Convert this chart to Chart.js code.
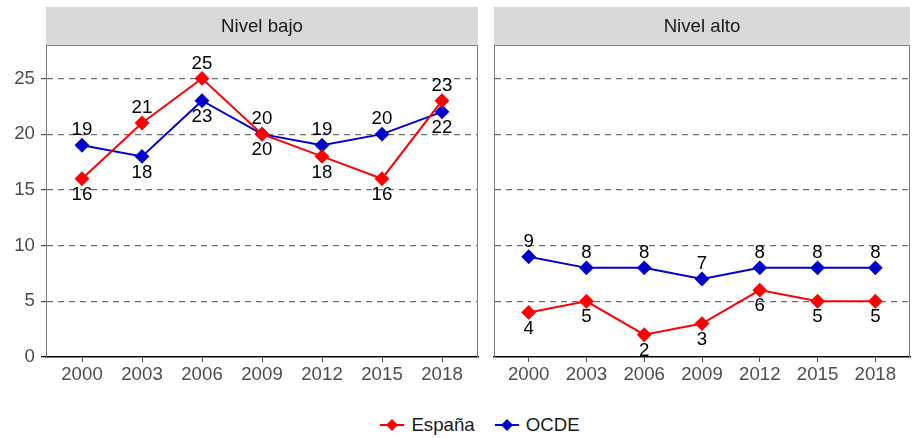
<!DOCTYPE html>
<html>
<head>
<meta charset="utf-8">
<script src="https://cdn.jsdelivr.net/npm/chart.js@4"></script>
<style>
  body { margin: 0; background: #fff; }
  #wrap { position: relative; width: 918px; height: 438px; font-family: "Liberation Sans", Arial, sans-serif; }
  .panel { position: absolute; top: 0; }
  #legend { position: absolute; top: 414px; left: 0; width: 960px; display: flex; justify-content: center; gap: 20px; font-size: 18.67px; color: #1a1a1a; }
  #legend span { display: flex; align-items: center; gap: 7px; }
</style>
</head>
<body>
<div id="wrap">
  <div class="panel" style="left:0;width:486px;height:397px"><canvas id="bajo"></canvas></div>
  <div class="panel" style="left:486px;width:432px;height:397px"><canvas id="alto"></canvas></div>
  <div id="legend"></div>
</div>
<script>
const years = ["2000", "2003", "2006", "2009", "2012", "2015", "2018"];
const seriesNames = ["España", "OCDE"];
const seriesColors = ["#ff0000", "#0000cd"];

// Nivel bajo
const bajoEspana = [16, 21, 25, 20, 18, 16, 23];
const bajoOcde = [19, 18, 23, 20, 19, 20, 22];
// Nivel alto
const altoEspana = [4, 5, 2, 3, 6, 5, 5];
const altoOcde = [9, 8, 8, 7, 8, 8, 8];

const yTicks = [0, 5, 10, 15, 20, 25];

const FONT = '18.67px "Liberation Sans", Arial, sans-serif';
Chart.defaults.font.family = '"Liberation Sans", Arial, sans-serif';
Chart.defaults.font.size = 18.67;

// gray strip on top of the panel plus the top/right panel border
const stripPlugin = {
  id: "strip",
  afterDraw(chart, args, opts) {
    const { ctx, chartArea: a } = chart;
    ctx.save();
    ctx.fillStyle = "#d9d9d9";
    ctx.fillRect(a.left, 7, a.right - a.left, a.top - 7);
    ctx.fillStyle = "#1a1a1a";
    ctx.font = FONT;
    ctx.textAlign = "center";
    ctx.textBaseline = "middle";
    ctx.fillText(opts.title, (a.left + a.right) / 2, (7 + a.top) / 2 + 1);
    ctx.strokeStyle = "#7f7f7f";
    ctx.lineWidth = 1;
    ctx.beginPath();
    ctx.moveTo(a.left, a.top + 0.5);
    ctx.lineTo(a.right - 0.5, a.top + 0.5);
    ctx.lineTo(a.right - 0.5, a.bottom);
    ctx.stroke();
    ctx.restore();
  }
};

// value labels: higher series above the point, lower one below
const valueLabels = {
  id: "valueLabels",
  afterDatasetsDraw(chart) {
    const { ctx } = chart;
    const d0 = chart.data.datasets[0].data, d1 = chart.data.datasets[1].data;
    ctx.save();
    ctx.fillStyle = "#000";
    ctx.font = FONT;
    ctx.textAlign = "center";
    ctx.textBaseline = "middle";
    chart.data.datasets.forEach((ds, di) => {
      chart.getDatasetMeta(di).data.forEach((pt, i) => {
        const espAbove = d0[i].y > d1[i].y;
        const above = di === 0 ? espAbove : !espAbove;
        ctx.fillText(String(ds.data[i].y), pt.x, pt.y + (above ? -15 : 16));
      });
    });
    ctx.restore();
  }
};

function makePanel(id, title, espana, ocde, showY) {
  const toPts = arr => arr.map((v, i) => ({ x: i, y: v }));
  return new Chart(document.getElementById(id), {
    type: "line",
    data: {
      datasets: [espana, ocde].map((arr, k) => ({
        label: seriesNames[k],
        data: toPts(arr),
        borderColor: seriesColors[k],
        backgroundColor: seriesColors[k],
        borderWidth: 2,
        pointStyle: "rectRot",
        pointRadius: 6,
        pointHoverRadius: 6,
        tension: 0
      }))
    },
    options: {
      responsive: true,
      maintainAspectRatio: false,
      animation: false,
      events: [],
      layout: { padding: { top: 45, right: showY ? 6 : 1, left: showY ? 0 : 6, bottom: 0 } },
      plugins: {
        legend: { display: false },
        tooltip: { enabled: false },
        strip: { title: title }
      },
      scales: {
        x: {
          type: "linear",
          min: -0.6,
          max: 6.6,
          afterBuildTicks: s => { s.ticks = years.map((_, i) => ({ value: i })); },
          afterFit: s => { s.height = 40; },
          ticks: { callback: v => years[v], color: "#4d4d4d", padding: 2, maxRotation: 0 },
          grid: { drawOnChartArea: false, drawTicks: true, tickLength: 5, tickColor: "#4d4d4d", tickBorderDash: [] },
          border: { color: "#000", width: 1.5 }
        },
        y: {
          min: 0,
          max: 28,
          afterBuildTicks: s => { s.ticks = yTicks.map(v => ({ value: v })); },
          afterFit: s => { s.width = showY ? 46 : 0; },
          ticks: { display: showY, color: "#4d4d4d", padding: 6 },
          grid: {
            color: c => (c.tick && c.tick.value === 0 ? "rgba(0,0,0,0)" : "#6e6e6e"),
            lineWidth: 1.2,
            drawTicks: showY,
            tickLength: 5,
            tickColor: c => (c.tick && c.tick.value === 0 ? "#000" : "#4d4d4d"),
            tickBorderDash: []
          },
          border: { color: "#7f7f7f", width: 1, dash: [6, 5] }
        }
      }
    },
    plugins: [stripPlugin, valueLabels]
  });
}

makePanel("bajo", "Nivel bajo", bajoEspana, bajoOcde, true);
makePanel("alto", "Nivel alto", altoEspana, altoOcde, false);

// legend built from the series names/colours
const legend = document.getElementById("legend");
seriesNames.forEach((name, k) => {
  const c = seriesColors[k];
  const item = document.createElement("span");
  item.innerHTML =
    '<svg width="24" height="14"><line x1="0" y1="7" x2="24" y2="7" stroke="' + c + '" stroke-width="2"/>' +
    '<polygon points="12,1 18,7 12,13 6,7" fill="' + c + '"/></svg>' + name;
  legend.appendChild(item);
});
</script>
</body>
</html>
